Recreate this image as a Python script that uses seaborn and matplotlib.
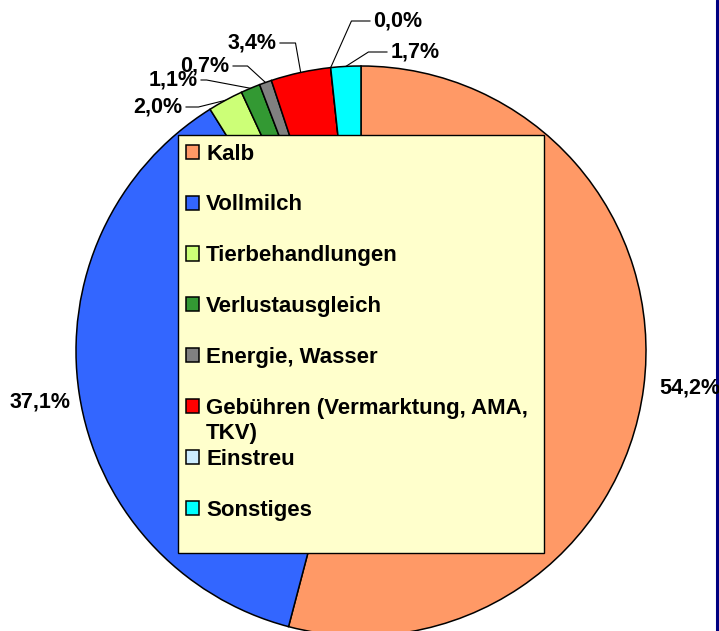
import matplotlib.pyplot as plt
import seaborn as sns
import numpy as np
from matplotlib.patches import Rectangle

# data (shares in %)
categories = ["Kalb", "Vollmilch", "Tierbehandlungen", "Verlustausgleich",
              "Energie, Wasser", "Gebühren (Vermarktung, AMA,\nTKV)",
              "Einstreu", "Sonstiges"]
shares = [54.2, 37.1, 2.0, 1.1, 0.7, 3.4, 0.0, 1.7]
colors = ["#FF9966", "#3366FF", "#CCFF77", "#339933",
          "#808080", "#FF0000", "#CCECFF", "#00FFFF"]

# label layout in pixels from top-left: text x, text y, angle of leader line (None = no line)
label_pos = [(690, 388, None), (40, 402, None), (158, 107, 14), (173, 80, -10.7),
             (205, 66, -42.5), (252, 43, -80), (398, 21, 66), (415, 52, 32.5)]

sns.set_theme(style="white")
plt.rcParams['font.family'] = ['Liberation Sans', 'DejaVu Sans']
plt.rcParams['text.color'] = 'black'

W, H = 719, 631
fig = plt.figure(figsize=(W / 100, H / 100), dpi=100)
ax = fig.add_axes([0, 0, 1, 1])

cx, cy, r = 361, H - 351, 285
wedges, _ = ax.pie(shares, colors=colors, startangle=90, counterclock=False,
                   center=(cx, cy), radius=r,
                   wedgeprops=dict(edgecolor='black', linewidth=1.1))
ax.set_xlim(0, W)
ax.set_ylim(0, H)
ax.set_aspect('auto')
ax.axis('off')

#1. percentage labels with leader lines
for w, v, (tx, ty, angB) in zip(wedges, shares, label_pos):
    txt = f"{v:.1f}".replace('.', ',') + '%'
    mid = np.deg2rad((w.theta1 + w.theta2) / 2)
    edge = (cx + r * np.cos(mid), cy + r * np.sin(mid))
    if angB is None:
        ax.text(tx, H - ty, txt, ha='center', va='center', fontsize=15.5,
                fontweight='bold', color='black')
    else:
        ax.annotate(txt, xy=edge, xytext=(tx, H - ty), ha='center', va='center',
                    fontsize=15.5, fontweight='bold', color='black',
                    arrowprops=dict(arrowstyle='-', color='black', lw=0.8,
                                    shrinkA=0, shrinkB=0,
                                    connectionstyle=f"angle,angleA=0,angleB={angB},rad=0"))

#2. legend box
ax.add_patch(Rectangle((177.5, H - 553.3), 366, 418.3, facecolor='#FFFFCC',
                       edgecolor='black', lw=1, zorder=3))
leg_labels = [c.split('\n')[0] for c in categories]
leg = ax.legend(wedges, leg_labels, loc='upper left', bbox_to_anchor=(186, H - 143.5),
                bbox_transform=ax.transData, frameon=False, borderpad=0,
                borderaxespad=0, handlelength=0.6, handleheight=0.6,
                handletextpad=0.3, labelspacing=1.345,
                prop={'weight': 'bold', 'size': 16})
for t in leg.get_texts():
    t.set_color('black')
for c in categories:
    if '\n' in c:
        ax.text(206, H - 434, c.split('\n')[1], ha='left', va='center',
                fontsize=16, fontweight='bold', color='black', zorder=6)

#3. right border line
ax.axvline(717, color='#000080', lw=2.2)

fig.savefig("out.png", dpi=100)
